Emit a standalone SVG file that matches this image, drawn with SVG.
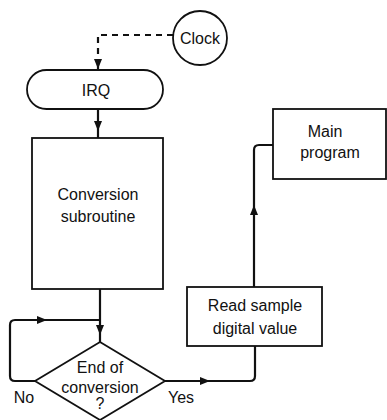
<svg xmlns="http://www.w3.org/2000/svg" width="387" height="420" viewBox="0 0 387 420">
<defs>
<style>
.box{fill:#fff;stroke:#111;stroke-width:1.8}
.ln{fill:none;stroke:#111;stroke-width:2.2}
.dash{fill:none;stroke:#111;stroke-width:2.2;stroke-dasharray:6 5}
text{font-family:"Liberation Sans",Arial,sans-serif;font-size:16px;fill:#111;text-anchor:middle}
</style>
<marker id="arr" viewBox="0 0 10 8" refX="10" refY="4" markerWidth="10" markerHeight="8" markerUnits="userSpaceOnUse" orient="auto">
<path d="M0,0 L10,4 L0,8 Z" fill="#111"/>
</marker>
</defs>
<rect width="387" height="420" fill="#fff"/>
<g id="connectors">
<path class="dash" d="M173,35 H98 V62"/>
<path class="ln" d="M98,62 V69" marker-end="url(#arr)"/>
<path class="ln" d="M98,109 V131" marker-end="url(#arr)"/>
<path class="ln" d="M98,131 V138"/>
<path class="ln" d="M100,289 V335" marker-end="url(#arr)"/>
<path class="ln" d="M100,335 V342"/>
<path class="ln" d="M35,381 H15 Q10,381 10,376 V325 Q10,320 15,320 H47" marker-end="url(#arr)"/>
<path class="ln" d="M47,320 H100"/>
<path class="ln" d="M165,381 H210" marker-end="url(#arr)"/>
<path class="ln" d="M210,381 H250 Q255,381 255,376 V346"/>
<path class="ln" d="M254,287 V205" marker-end="url(#arr)"/>
<path class="ln" d="M254,205 V150 Q254,145 259,145 H273"/>
</g>
<g id="clock">
<circle class="box" cx="200" cy="38" r="27"/>
<text x="200" y="44">Clock</text>
</g>
<g id="irq">
<rect class="box" x="27" y="70" width="136" height="39" rx="19.5" ry="19.5"/>
<text x="96" y="96">IRQ</text>
</g>
<g id="conversion">
<rect class="box" x="32" y="138" width="131" height="151"/>
<text x="98" y="200">Conversion</text>
<text x="98" y="222">subroutine</text>
</g>
<g id="decision">
<polygon class="box" points="100,342 165,381 100,420 35,381"/>
<text x="100" y="373">End of</text>
<text x="100" y="393">conversion</text>
<text x="100" y="409">?</text>
</g>
<g id="labels">
<text x="24" y="403">No</text>
<text x="181" y="403">Yes</text>
</g>
<g id="read">
<rect class="box" x="187" y="287" width="135" height="59"/>
<text x="255" y="311">Read sample</text>
<text x="255" y="334">digital value</text>
</g>
<g id="main">
<rect class="box" x="273" y="109" width="113" height="70"/>
<text x="325" y="137">Main</text>
<text x="330" y="158">program</text>
</g>
</svg>
